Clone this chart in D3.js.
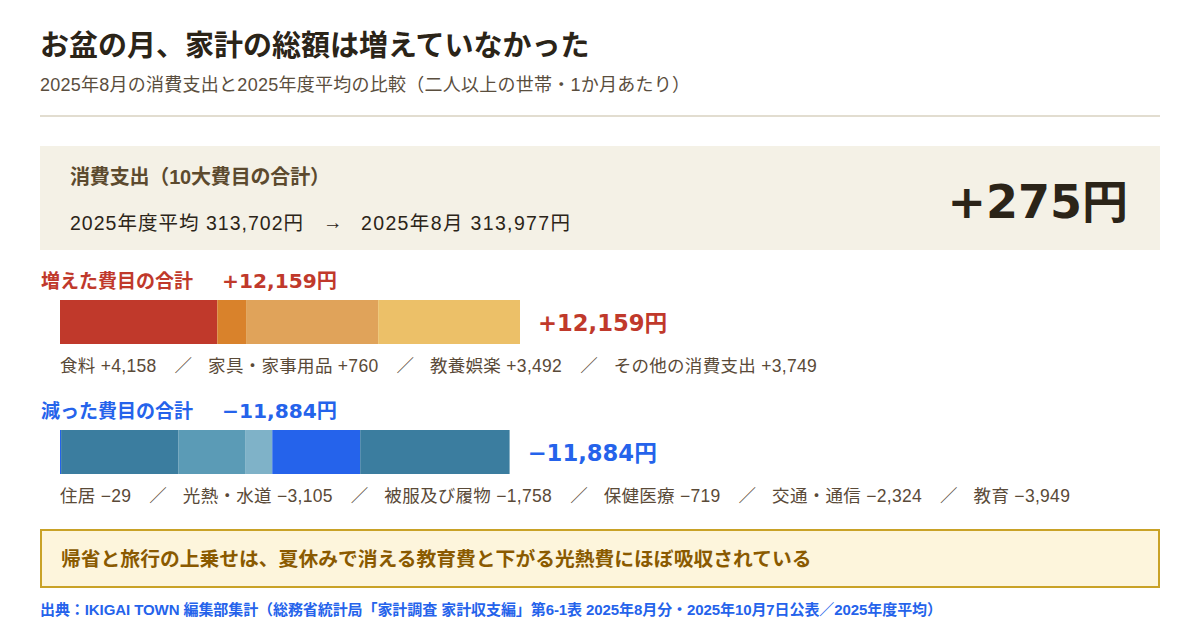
<!DOCTYPE html>
<html><head><meta charset="utf-8">
<script src="https://cdn.jsdelivr.net/npm/d3@7/dist/d3.min.js"></script>
<style>
html,body{margin:0;padding:0;background:#fff;}
svg text{font-family:"Liberation Sans","Noto Sans CJK JP",sans-serif;}
svg text.num{font-family:"DejaVu Sans","Noto Sans CJK JP",sans-serif;}
</style></head>
<body><svg id="c" width="1200" height="640"></svg>
<script>
const title = "お盆の月、家計の総額は増えていなかった";
const subtitle = "2025年8月の消費支出と2025年度平均の比較（二人以上の世帯・1か月あたり）";
const totalLabel = "消費支出（10大費目の合計）";
const avgLabel = "2025年度平均";
const augLabel = "2025年8月";
const avgTotal = 313702;
const augTotal = 313977;
const incCategories = ["食料","家具・家事用品","教養娯楽","その他の消費支出"];
const incValues = [4158, 760, 3492, 3749];
const incColors = ["#c0392b","#d9822b","#e0a35a","#ecc068"];
const decCategories = ["住居","光熱・水道","被服及び履物","保健医療","交通・通信","教育"];
const decValues = [29, 3105, 1758, 719, 2324, 3949];
const decColors = ["#2563eb","#3b7d9f","#5b9bb6","#7fb2c8","#2563eb","#3b7d9f"];
const callout = "帰省と旅行の上乗せは、夏休みで消える教育費と下がる光熱費にほぼ吸収されている";
const source = "出典：IKIGAI TOWN 編集部集計（総務省統計局「家計調査 家計収支編」第6-1表 2025年8月分・2025年10月7日公表／2025年度平均）";

const svg = d3.select("#c");
const fmt = d3.format(",");
const incSum = d3.sum(incValues), decSum = d3.sum(decValues);
const x = d3.scaleLinear().domain([0, Math.max(incSum, decSum)]).range([60, 520]);

svg.append("text").attr("x",40).attr("y",56).attr("font-size",29).attr("font-weight","bold").attr("fill","#2b2418").text(title);
svg.append("text").attr("x",40).attr("y",91).attr("font-size",18).attr("textLength",650).attr("lengthAdjust","spacing").attr("fill","#5a4e3e").text(subtitle);
svg.append("rect").attr("x",40).attr("y",115).attr("width",1120).attr("height",2).attr("fill","#e2ddd0");

svg.append("rect").attr("x",40).attr("y",146).attr("width",1120).attr("height",104).attr("fill","#f4f1e6");
svg.append("text").attr("x",70).attr("y",184).attr("font-size",20).attr("textLength",260).attr("lengthAdjust","spacing").attr("font-weight","bold").attr("fill","#5c4a2e").text(totalLabel);
svg.append("text").attr("x",70).attr("y",230).attr("font-size",19.5).attr("textLength",233).attr("lengthAdjust","spacing").attr("fill","#2b2418")
  .text(`${avgLabel} ${fmt(avgTotal)}円`);
svg.append("text").attr("x",323).attr("y",229).attr("font-size",19.5).attr("fill","#2b2418").text("→");
svg.append("text").attr("x",361).attr("y",230).attr("font-size",19.5).attr("textLength",209).attr("lengthAdjust","spacing").attr("fill","#2b2418")
  .text(`${augLabel} ${fmt(augTotal)}円`);
const diff = augTotal - avgTotal;
svg.append("text").attr("class","num").attr("x",1128).attr("y",218).attr("text-anchor","end").attr("font-size",46).attr("font-weight","bold").attr("fill","#2b2418")
  .text((diff>=0?"+":"−")+fmt(Math.abs(diff))+"円");

function group(y0, head, color, cats, vals, cols, sign){
  const sum = d3.sum(vals);
  const totalStr = sign + fmt(sum) + "円";
  svg.append("text").attr("x",41).attr("y",y0).attr("font-size",19).attr("font-weight","bold").attr("fill",color).text(head);
  svg.append("text").attr("class","num").attr("x",222).attr("y",y0).attr("font-size",20.2).attr("font-weight","bold").attr("fill",color).text(totalStr);
  let acc = 0;
  const segs = vals.map((v,i)=>{const s={x0:acc,x1:acc+v,c:cols[i]}; acc+=v; return s;});
  svg.append("g").selectAll("rect").data(segs).join("rect")
    .attr("x",d=>x(d.x0)).attr("width",d=>x(d.x1)-x(d.x0))
    .attr("y",y0+12).attr("height",44).attr("fill",d=>d.c);
  svg.append("text").attr("class","num").attr("x",x(sum)+18).attr("y",y0+43).attr("font-size",22.7).attr("font-weight","bold").attr("fill",color).text(totalStr);
  const g = svg.append("g").attr("font-size",17.5).attr("fill","#5a4a38");
  let cx = 60;
  cats.forEach((c,i)=>{
    if(i>0){
      cx += 18;
      const s = g.append("text").attr("x",cx).attr("y",y0+84).text("／");
      cx += s.node().getComputedTextLength() - 4 + 20;
    }
    const t = g.append("text").attr("x",cx).attr("y",y0+84).attr("letter-spacing",0.3).text(`${c} ${sign}${fmt(vals[i])}`);
    cx += t.node().getComputedTextLength();
  });
}
group(288, "増えた費目の合計", "#c0392b", incCategories, incValues, incColors, "+");
group(418, "減った費目の合計", "#2563eb", decCategories, decValues, decColors, "−");

svg.append("rect").attr("x",41).attr("y",530).attr("width",1118).attr("height",57).attr("fill","#fdf5dc").attr("stroke","#c9a227").attr("stroke-width",2);
svg.append("text").attr("x",61).attr("y",566).attr("font-size",19.8).attr("font-weight","bold").attr("fill","#8a5a00").text(callout);
svg.append("text").attr("x",40).attr("y",615).attr("font-size",15).attr("textLength",902).attr("lengthAdjust","spacing").attr("font-weight","bold").attr("fill","#2563eb").text(source);
</script></body></html>
